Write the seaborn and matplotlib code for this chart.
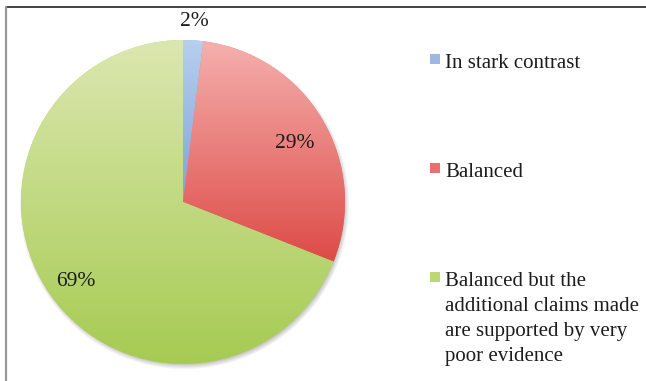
import numpy as np
import matplotlib
matplotlib.use("Agg")
import matplotlib.pyplot as plt
from matplotlib.colors import LinearSegmentedColormap
from matplotlib.lines import Line2D
from matplotlib.patches import Rectangle
import seaborn as sns

sns.set_theme(style="white")
plt.rcParams["font.family"] = "Liberation Serif"

# Data
categories = [
    "In stark contrast",
    "Balanced",
    "Balanced but the\nadditional claims made\nare supported by very\npoor evidence",
]
shares = [2, 29, 69]
pct_labels = ["2%", "29%", "69%"]

# Per-slice gradient colours (top -> bottom) and a flat mid colour for the legend keys
top_colors = ["#b8cfee", "#f5b0ae", "#dce7b0"]
bottom_colors = ["#7ea3d6", "#dd4b47", "#a6cb52"]
mid_colors = ["#9bb9e2", "#e8716e", "#bcd872"]

W, H = 646, 381
fig = plt.figure(figsize=(W / 100, H / 100), dpi=100)
ax = fig.add_axes([0, 0, 1, 1])

cx, cy, R = 183, 179, 162

wedges, _ = ax.pie(
    shares,
    startangle=90,
    counterclock=False,
    center=(cx, cy),
    radius=R,
    colors=mid_colors,
    wedgeprops=dict(linewidth=0, antialiased=True),
)

# Soft drop shadow underneath the pie
gx = np.arange(0, W, 1.0)
gy = np.arange(0, H, 1.0)
XX, YY = np.meshgrid(gx, gy)
dist = np.hypot(XX - (cx + 1), YY - (cy - 3))
alpha = 0.45 * np.clip((R + 3 - dist) / 7.0, 0, 1)
shadow = np.zeros((H, W, 4))
shadow[..., :3] = 0.35
shadow[..., 3] = alpha
ax.imshow(shadow, extent=(0, W, 0, H), origin="lower", zorder=0.5,
          interpolation="bilinear")

# Vertical gradient fill clipped to each wedge
ramp = np.linspace(0, 1, 256).reshape(-1, 1)
for w, ctop, cbot in zip(wedges, top_colors, bottom_colors):
    w.set_zorder(1)
    ext = w.get_path().get_extents()
    cmap = LinearSegmentedColormap.from_list("g", [cbot, ctop])
    im = ax.imshow(ramp, extent=(ext.x0, ext.x1, ext.y0, ext.y1), origin="lower",
                   cmap=cmap, aspect="auto", interpolation="bilinear", zorder=1.1)
    im.set_clip_path(w)

# Percentage labels
for w, lab, s in zip(wedges, pct_labels, shares):
    ang = np.deg2rad((w.theta1 + w.theta2) / 2)
    if s < 5:
        d, dy = 1.12, -1
    else:
        d, dy = 0.8, -7
    ax.text(cx + d * R * np.cos(ang), cy + d * R * np.sin(ang) + dy, lab,
            ha="center", va="center", fontsize=15.5, color="#1c1c1c", zorder=3)

ax.set_xlim(0, W)
ax.set_ylim(0, H)
ax.set_aspect("equal")
ax.axis("off")

# Legend: square keys with labels, one entry per category
line_step = 25  # px between wrapped label lines
legend_baselines = [68, 177, 286]
for lab, col, yb in zip(categories, mid_colors, legend_baselines):
    y_last = yb + lab.count("\n") * line_step
    fig.text(445 / W, (H - y_last) / H, lab, ha="left", va="baseline",
             fontsize=15, color="#1c1c1c", linespacing=1.42)
    fig.add_artist(Rectangle((430 / W, (H - yb + 4) / H), 10 / W, 10 / H,
                             transform=fig.transFigure, facecolor=col,
                             edgecolor="none"))

# Chart frame lines
fig.add_artist(Line2D([6 / W, 1], [(H - 7) / H] * 2, transform=fig.transFigure,
                      color="#222222", lw=1.2))
fig.add_artist(Line2D([5.5 / W] * 2, [0, (H - 7) / H], transform=fig.transFigure,
                      color="#999999", lw=1.6))

fig.savefig("out.png", dpi=100)
